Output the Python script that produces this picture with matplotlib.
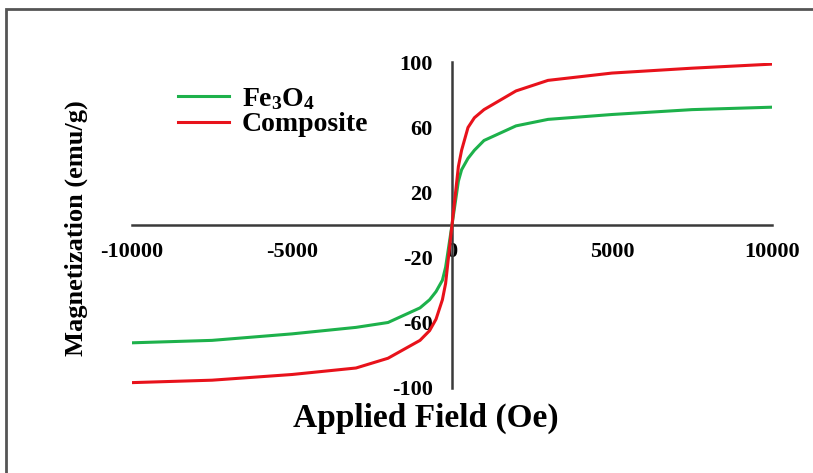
import matplotlib
matplotlib.use("Agg")
import matplotlib.pyplot as plt
from matplotlib.patches import Rectangle

field = [-10000, -7500, -5000, -3000, -2000, -1000, -700, -500, -300, -200, 0,
         200, 300, 500, 700, 1000, 2000, 3000, 5000, 7500, 10000]
fe3o4 = [-72.5, -71, -67, -63, -60, -51, -46, -41, -34, -26, 0,
         27, 34, 41, 46, 52, 61, 65, 68, 71, 72.5]
composite = [-97, -95.5, -92, -88, -82, -71, -65, -58, -46, -36, 0,
             36, 46, 60, 66, 71, 82.5, 89, 93.5, 96.5, 99]
xticks = [-10000, -5000, 0, 5000, 10000]
yticks = [-100, -60, -20, 20, 60, 100]

plt.rcParams['font.family'] = ['Liberation Serif', 'DejaVu Serif']
plt.rcParams['font.weight'] = 'bold'
plt.rcParams['mathtext.fontset'] = 'custom'
plt.rcParams['mathtext.rm'] = 'Liberation Serif:bold'
plt.rcParams['mathtext.bf'] = 'Liberation Serif:bold'
plt.rcParams['mathtext.it'] = 'Liberation Serif:bold'

W, H = 813, 473
fig = plt.figure(figsize=(W / 100, H / 100), dpi=100)
ax = fig.add_axes([132 / W, 1 - 387.5 / H, (772 - 132) / W, (387.5 - 62.5) / H])

green = '#1DB14B'
red = '#E8121B'
ax.plot(field, fe3o4, color=green, lw=2.2, label=r'Fe$_{3}$O$_{4}$', zorder=3)
ax.plot(field, composite, color=red, lw=2.2, label='Composite', zorder=3)

ax.set_xlim(-10000, 10000)
ax.set_ylim(-100, 100)
ax.spines['left'].set_position('zero')
ax.spines['bottom'].set_position('zero')
ax.spines['top'].set_visible(False)
ax.spines['right'].set_visible(False)
for s in ('left', 'bottom'):
    ax.spines[s].set_color('#3a3a3a')
    ax.spines[s].set_linewidth(1.8)
ax.set_xticks(xticks)
ax.set_xticklabels([str(v) for v in xticks])
ax.set_yticks(yticks)
ax.set_yticklabels([str(v) for v in yticks])
ax.tick_params(axis='x', length=0, pad=12, labelsize=16)
ax.tick_params(axis='y', length=0, pad=14, labelsize=16)
for lab in ax.get_xticklabels() + ax.get_yticklabels():
    lab.set_fontweight('bold')
ax.patch.set_alpha(0)

leg = ax.legend(loc='upper left', bbox_to_anchor=(178 / W, 1 - 86 / H),
                bbox_transform=fig.transFigure, frameon=False, fontsize=20,
                handlelength=1.85, handletextpad=0.45, labelspacing=0.0,
                borderpad=0, borderaxespad=0)
for t in leg.get_texts():
    t.set_fontweight('bold')

fig.text(76 / W, 1 - 228 / H, 'Magnetization (emu/g)', rotation=90,
         ha='center', va='center', fontsize=19, fontweight='bold')
fig.text(426 / W, 1 - 418 / H, 'Applied Field (Oe)', ha='center', va='center',
         fontsize=24, fontweight='bold')

fig.patches.append(Rectangle((6 / W, -0.05), 1.2, 1 - 9 / H + 0.05,
                             transform=fig.transFigure, fill=False,
                             edgecolor='#555555', lw=2.0, clip_on=False))

fig.savefig('out.png', dpi=100)
